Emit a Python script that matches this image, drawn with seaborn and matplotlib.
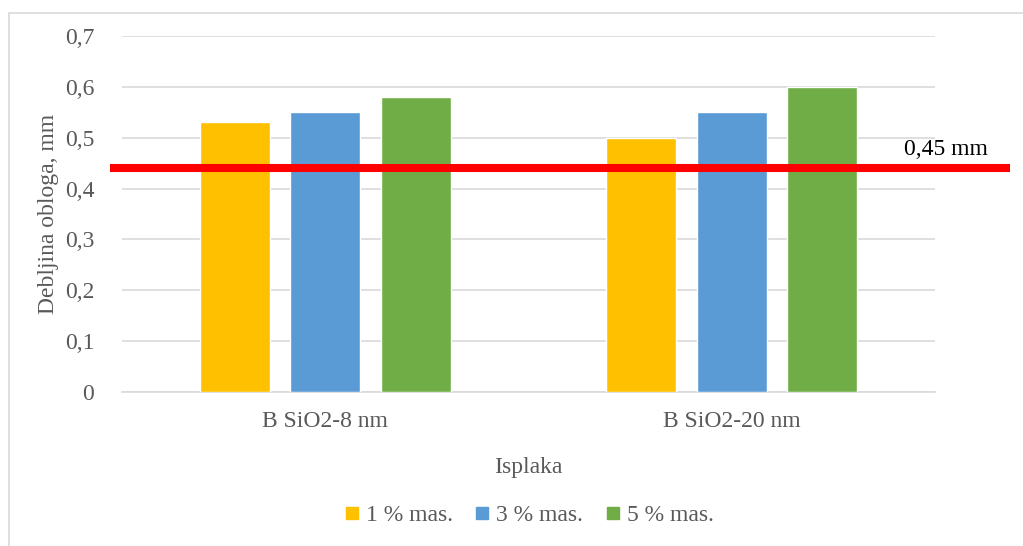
import matplotlib
matplotlib.use("Agg")
import matplotlib.pyplot as plt
import seaborn as sns
import pandas as pd
from matplotlib.lines import Line2D
from matplotlib.ticker import FuncFormatter

categories = ["B SiO2-8 nm", "B SiO2-20 nm"]
series_names = ["1 % mas.", "3 % mas.", "5 % mas."]
vals_1 = [0.53, 0.50]
vals_3 = [0.55, 0.55]
vals_5 = [0.58, 0.60]
limit_value = 0.44
limit_label = "0,45 mm"
colors = ["#FFC000", "#5B9BD5", "#70AD47"]

rows = []
for name, vals in zip(series_names, [vals_1, vals_3, vals_5]):
    for c, v in zip(categories, vals):
        rows.append({"Isplaka": c, "Serija": name, "Vrijednost": v})
df = pd.DataFrame(rows)

sns.set_theme(style="white")
plt.rcParams["font.family"] = ["Liberation Serif", "DejaVu Serif"]
text_col = "#595959"
fs = 17

fig = plt.figure(figsize=(10.23, 5.46), dpi=100)
ax = fig.add_axes([122/1023, 1-392/546, (935-122)/1023, (392-36)/546])

sns.barplot(data=df, x="Isplaka", y="Vrijednost", hue="Serija",
            hue_order=series_names, order=categories, palette=colors,
            width=0.668, gap=0.226, saturation=1, ax=ax, legend=True,
            zorder=3)

ax.set_xlim(-0.5, 1.5)
ax.set_ylim(0, 0.7)
ax.set_yticks([i/10 for i in range(8)])
ax.yaxis.set_major_formatter(FuncFormatter(lambda v, p: ("%g" % round(v, 2)).replace(".", ",")))
ax.grid(axis="y", color="#D9D9D9", linewidth=1.2, zorder=0)
ax.set_axisbelow(True)
for s in ["top", "right", "left"]:
    ax.spines[s].set_visible(False)
ax.spines["bottom"].set_color("#D9D9D9")
ax.spines["bottom"].set_linewidth(1.2)
ax.tick_params(axis="both", length=0, labelsize=fs, colors=text_col)
ax.tick_params(axis="y", pad=20)
ax.tick_params(axis="x", pad=14)
ax.set_xlabel("Isplaka", fontsize=fs, color=text_col, labelpad=18)
ax.set_ylabel("Debljina obloga, mm", fontsize=fs, color=text_col, labelpad=4)

# threshold line
ax.axhline(limit_value, xmin=(110-122)/813, xmax=(1010-122)/813,
           color="#FF0000", linewidth=5.8, clip_on=False, zorder=5,
           solid_capstyle="butt")
ax.text((946-122)/813, limit_value + 0.017, limit_label, transform=ax.get_yaxis_transform(),
        fontsize=fs, color="black", ha="center", va="bottom", clip_on=False)

# legend
if ax.get_legend() is not None:
    ax.get_legend().remove()
handles = [Line2D([], [], marker="s", linestyle="none", markersize=9,
                  markerfacecolor=c, markeredgecolor=c) for c in colors]
fig.legend(handles, series_names, loc="center", bbox_to_anchor=(528/1023, 1-515/546),
           ncol=3, frameon=False, fontsize=fs, labelcolor=text_col,
           handletextpad=0.2, columnspacing=0.85, handlelength=0.8)

# chart border (top and left visible)
fig.add_artist(Line2D([9/1023, 1], [1-13/546, 1-13/546], color="#D9D9D9", linewidth=1.2))
fig.add_artist(Line2D([9/1023, 9/1023], [0, 1-13/546], color="#D9D9D9", linewidth=1.2))

fig.savefig("out.png", dpi=100, facecolor="white")
